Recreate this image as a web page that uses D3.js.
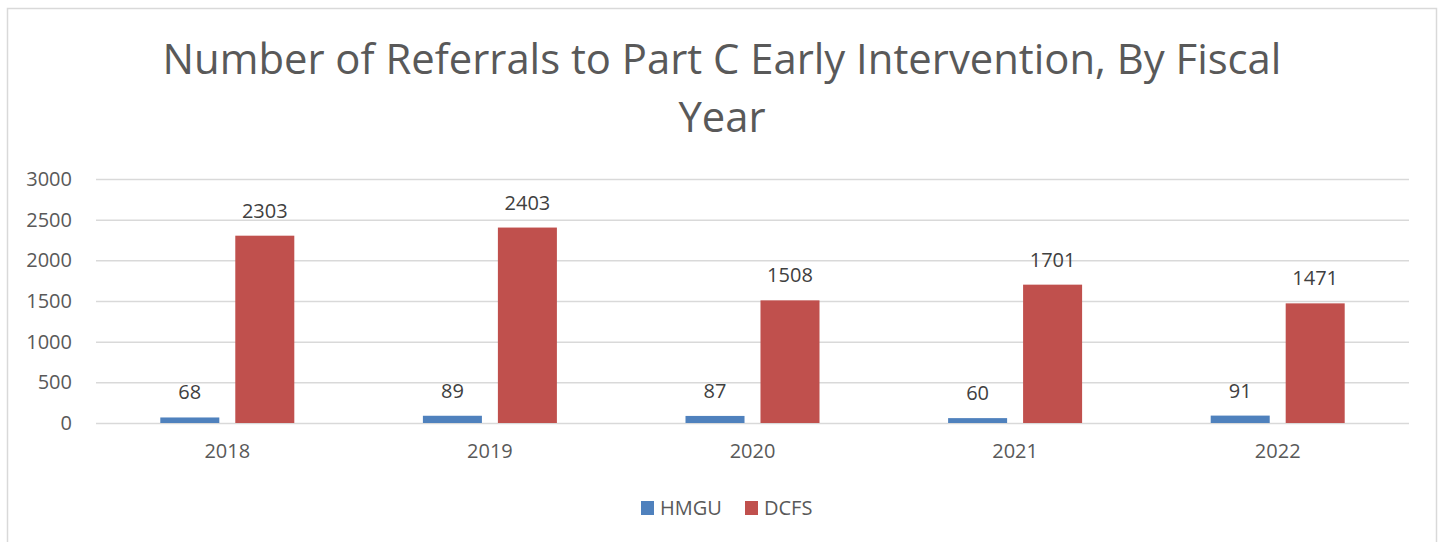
<!DOCTYPE html>
<html>
<head>
<meta charset="utf-8">
<script src="https://cdn.jsdelivr.net/npm/d3@7"></script>
<style>
  body { margin: 0; background: #fff; }
  svg text { font-family: "Open Sans", "Liberation Sans", sans-serif; }
</style>
</head>
<body>
<div id="vis"></div>
<script>
var years = ['2018', '2019', '2020', '2021', '2022'];
var seriesNames = ['HMGU', 'DCFS'];
var hmguValues = [68, 89, 87, 60, 91];
var dcfsValues = [2303, 2403, 1508, 1701, 1471];
var yTicks = [0, 500, 1000, 1500, 2000, 2500, 3000];
var titleLines = ['Number of Referrals to Part C Early Intervention, By Fiscal', 'Year'];

var width = 1440;
var height = 542;
var colors = { HMGU: '#4f81bd', DCFS: '#c0504d' };

var plot = { left: 96, right: 1409, top: 179, bottom: 423 };

var svg = d3.select('#vis')
  .append('svg')
  .attr('width', width)
  .attr('height', height);

// outer border
svg.append('rect')
  .attr('x', 7.5)
  .attr('y', 8.5)
  .attr('width', 1429)
  .attr('height', 545)
  .attr('fill', '#fff')
  .attr('stroke', '#d9d9d9')
  .attr('stroke-width', 1.5);

svg.selectAll('.title')
  .data(titleLines)
  .enter()
  .append('text')
  .attr('class', 'title')
  .attr('x', 722)
  .attr('y', function (d, i) { return 74 + i * 58; })
  .attr('text-anchor', 'middle')
  .attr('fill', '#595959')
  .style('font-size', '41.8px')
  .text(function (d) { return d; });

var x0 = d3.scaleBand()
  .domain(years)
  .range([plot.left, plot.right]);

var x1 = d3.scaleBand()
  .domain(seriesNames)
  .range([0, 134])
  .paddingInner(0.213);

var y = d3.scaleLinear()
  .domain([0, 3000])
  .range([plot.bottom, plot.top]);

// gridlines + y axis labels
var yAxis = d3.axisLeft(y)
  .tickValues(yTicks)
  .tickFormat(d3.format('d'))
  .tickSize(-(plot.right - plot.left))
  .tickPadding(24);

var yg = svg.append('g')
  .attr('transform', 'translate(' + plot.left + ',0)')
  .call(yAxis);
yg.select('.domain').remove();
yg.selectAll('.tick line').attr('stroke', '#d9d9d9').attr('stroke-width', 1.5);
yg.selectAll('.tick text')
  .attr('fill', '#595959')
  .style('font-size', '20px')
  .style('font-family', '"Open Sans", sans-serif');

// x axis labels
var xAxis = d3.axisBottom(x0).tickSize(0).tickPadding(21);
var xg = svg.append('g')
  .attr('transform', 'translate(0,' + plot.bottom + ')')
  .call(xAxis);
xg.select('.domain').remove();
xg.selectAll('.tick text')
  .attr('fill', '#595959')
  .style('font-size', '20px')
  .style('font-family', '"Open Sans", sans-serif');

var rows = years.map(function (yr, i) {
  return { year: yr, values: [
    { key: 'HMGU', value: hmguValues[i] },
    { key: 'DCFS', value: dcfsValues[i] }
  ] };
});

var groups = svg.selectAll('.group')
  .data(rows)
  .enter()
  .append('g')
  .attr('class', 'group')
  .attr('transform', function (d) {
    return 'translate(' + (x0(d.year) + x0.bandwidth() / 2 - 67) + ',0)';
  });

groups.selectAll('rect')
  .data(function (d) { return d.values; })
  .enter()
  .append('rect')
  .attr('x', function (d) { return x1(d.key); })
  .attr('y', function (d) { return y(d.value); })
  .attr('width', x1.bandwidth())
  .attr('height', function (d) { return y(0) - y(d.value); })
  .attr('fill', function (d) { return colors[d.key]; });

groups.selectAll('.label')
  .data(function (d) { return d.values; })
  .enter()
  .append('text')
  .attr('class', 'label')
  .attr('x', function (d) { return x1(d.key) + x1.bandwidth() / 2; })
  .attr('y', function (d) { return y(d.value) - 18; })
  .attr('text-anchor', 'middle')
  .attr('fill', '#404040')
  .style('font-size', '20px')
  .text(function (d) { return d.value; });

// legend
var legendX = [641, 745];
var legend = svg.selectAll('.legend')
  .data(seriesNames)
  .enter()
  .append('g')
  .attr('class', 'legend')
  .attr('transform', function (d, i) { return 'translate(' + legendX[i] + ',501)'; });

legend.append('rect')
  .attr('width', 13)
  .attr('height', 14)
  .attr('fill', function (d) { return colors[d]; });

legend.append('text')
  .attr('x', 19)
  .attr('y', 14)
  .attr('fill', '#595959')
  .style('font-size', '20px')
  .text(function (d) { return d; });
</script>
</body>
</html>
